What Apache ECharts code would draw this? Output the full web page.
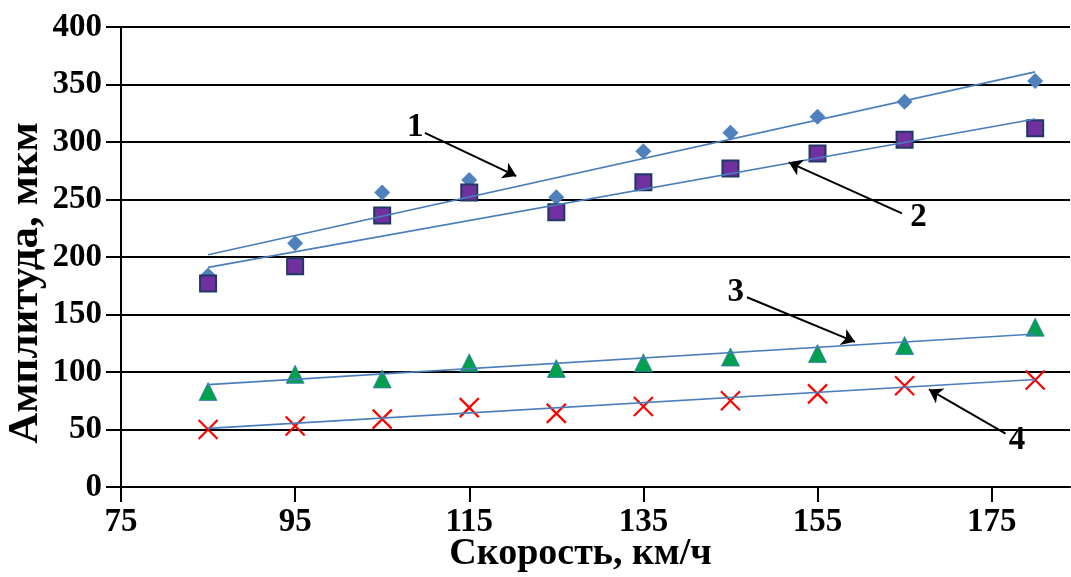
<!DOCTYPE html>
<html>
<head>
<meta charset="utf-8">
<script src="https://cdn.jsdelivr.net/npm/echarts@6/dist/echarts.min.js"></script>
<style>
html,body{margin:0;padding:0;background:#fff;}
#chart{width:1071px;height:577px;}
</style>
</head>
<body>
<div id="chart"></div>
<script>
// Data
const speeds = [85, 95, 105, 115, 125, 135, 145, 155, 165, 180];
const amp1 = [184, 212, 256, 267, 252, 292, 308, 322, 335, 353];
const amp2 = [177, 192, 236, 256, 239, 265, 277, 290, 302, 312];
const amp3 = [83, 98, 94, 108, 103, 108, 113, 116, 123, 139];
const amp4 = [50, 53, 59, 69, 64, 70, 75, 81, 88, 93];
const trendX = [85, 180];
const trend1 = [202, 361];
const trend2 = [191, 320];
const trend3 = [89, 133];
const trend4 = [51, 93.5];
const xTicks = [75, 95, 115, 135, 155, 175];
const curveNames = ['1', '2', '3', '4'];
const labelPos = [[108.8, 313], [166.6, 234.4], [145.6, 169.3], [177.9, 40.6]];
const arrowFrom = [[109.9, 308], [164.7, 238], [146.9, 165], [176.6, 46.5]];
const arrowTo = [[120.4, 270.4], [151.7, 282.3], [159.3, 126.2], [167.8, 84.8]];

const pts = arr => speeds.map((s, i) => [s, arr[i]]);
const tr = arr => trendX.map((s, i) => [s, arr[i]]);

const FONT = 'Liberation Serif';
const chart = echarts.init(document.getElementById('chart'));
const trendStyle = { color: '#4A7EBB', width: 1.6 };

chart.setOption({
  animation: false,
  backgroundColor: '#ffffff',
  grid: { left: 121, right: 1, top: 27, bottom: 90, containLabel: false, outerBoundsMode: 'none' },
  xAxis: {
    type: 'value', min: 75, max: 184, interval: 20,
    name: 'Скорость, км/ч', nameLocation: 'middle', nameGap: 48, nameMoveOverlap: false,
    nameTextStyle: { fontFamily: FONT, fontWeight: 'bold', fontSize: 38, color: '#000', padding: [0, 30, 0, 0] },
    axisLine: { show: true, lineStyle: { color: '#000', width: 2 } },
    axisTick: { show: true, length: 15, lineStyle: { color: '#000', width: 2 }, customValues: xTicks },
    axisLabel: { fontFamily: FONT, fontWeight: 'bold', fontSize: 33, color: '#000', margin: 19, customValues: xTicks },
    splitLine: { show: false }
  },
  yAxis: {
    type: 'value', min: 0, max: 400, interval: 50,
    name: 'Амплитуда, мкм', nameLocation: 'middle', nameGap: 74, nameRotate: 90, nameMoveOverlap: false,
    nameTextStyle: { fontFamily: FONT, fontWeight: 'bold', fontSize: 43, color: '#000', padding: [0, 52, 0, 0] },
    axisLine: { show: true, lineStyle: { color: '#000', width: 2 } },
    axisTick: { show: true, inside: false, length: 15, lineStyle: { color: '#000', width: 2 } },
    axisLabel: { fontFamily: FONT, fontWeight: 'bold', fontSize: 33, color: '#000', margin: 19 },
    splitLine: { show: true, lineStyle: { color: '#000', width: 2.2 } }
  },
  series: [
    { name: 'd1', type: 'scatter', data: pts(amp1), symbol: 'diamond', symbolSize: 16,
      itemStyle: { color: '#4F81BD', opacity: 1 }, z: 3 },
    { name: 'd2', type: 'scatter', data: pts(amp2), symbol: 'rect', symbolSize: 16,
      itemStyle: { color: '#7030A0', borderColor: '#1F3864', borderWidth: 2, opacity: 1 }, z: 3 },
    { name: 'd3', type: 'scatter', data: pts(amp3), symbol: 'triangle', symbolSize: 18,
      itemStyle: { color: '#00A04E', borderColor: '#3A78B8', borderWidth: 0.8, opacity: 1 }, z: 3 },
    { name: 'd4', type: 'scatter', data: pts(amp4), symbol: 'path://M0,0L10,10M10,0L0,10', symbolSize: 19,
      itemStyle: { color: 'none', borderColor: '#FF0000', borderWidth: 2.2, opacity: 1 }, z: 3 },
    { name: 't1', type: 'line', data: tr(trend1), showSymbol: false, lineStyle: trendStyle, z: 4 },
    { name: 't2', type: 'line', data: tr(trend2), showSymbol: false, lineStyle: trendStyle, z: 4 },
    { name: 't3', type: 'line', data: tr(trend3), showSymbol: false, lineStyle: trendStyle, z: 4 },
    { name: 't4', type: 'line', data: tr(trend4), showSymbol: false, lineStyle: trendStyle, z: 4 },
    { name: 'labels', type: 'scatter', symbolSize: 0, silent: true, z: 5,
      itemStyle: { opacity: 1 },
      data: labelPos.map((p, i) => ({ value: p, name: curveNames[i] })),
      label: { show: true, position: 'inside', formatter: p => p.name,
        fontFamily: FONT, fontWeight: 'bold', fontSize: 33, color: '#000' },
      markLine: {
        silent: true, symbol: ['none', 'arrow'], symbolSize: 13,
        lineStyle: { color: '#000', width: 2, type: 'solid', opacity: 1 },
        label: { show: false },
        data: arrowFrom.map((a, i) => [{ coord: a }, { coord: arrowTo[i] }])
      }
    }
  ]
});
</script>
</body>
</html>
